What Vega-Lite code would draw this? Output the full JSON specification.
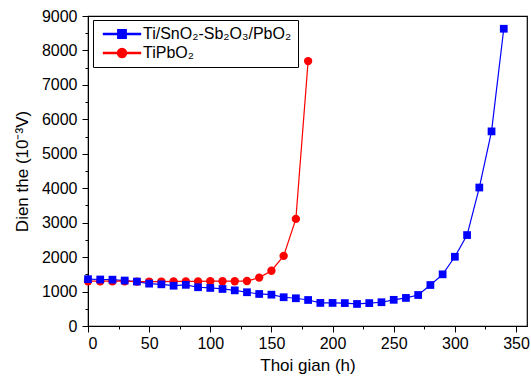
{
  "$schema": "https://vega.github.io/schema/vega-lite/v6.json",
  "width": 439,
  "height": 310,
  "autosize": "none",
  "padding": {"left": 88, "top": 16, "right": 4, "bottom": 55},
  "background": "white",
  "config": {
    "font": "Liberation Sans",
    "view": {"stroke": "black", "strokeWidth": 1.2},
    "axis": {"grid": false, "domainColor": "black", "tickColor": "black", "labelColor": "black", "titleColor": "black", "labelFont": "Liberation Sans", "titleFont": "Liberation Sans", "titleFontWeight": "normal"}
  },
  "data": {"values": [
    {"t": 0, "v": 1360, "s": "Ti/SnO₂-Sb₂O₃/PbO₂"},
    {"t": 10, "v": 1350, "s": "Ti/SnO₂-Sb₂O₃/PbO₂"},
    {"t": 20, "v": 1345, "s": "Ti/SnO₂-Sb₂O₃/PbO₂"},
    {"t": 30, "v": 1320, "s": "Ti/SnO₂-Sb₂O₃/PbO₂"},
    {"t": 40, "v": 1290, "s": "Ti/SnO₂-Sb₂O₃/PbO₂"},
    {"t": 50, "v": 1230, "s": "Ti/SnO₂-Sb₂O₃/PbO₂"},
    {"t": 60, "v": 1210, "s": "Ti/SnO₂-Sb₂O₃/PbO₂"},
    {"t": 70, "v": 1170, "s": "Ti/SnO₂-Sb₂O₃/PbO₂"},
    {"t": 80, "v": 1195, "s": "Ti/SnO₂-Sb₂O₃/PbO₂"},
    {"t": 90, "v": 1125, "s": "Ti/SnO₂-Sb₂O₃/PbO₂"},
    {"t": 100, "v": 1105, "s": "Ti/SnO₂-Sb₂O₃/PbO₂"},
    {"t": 110, "v": 1075, "s": "Ti/SnO₂-Sb₂O₃/PbO₂"},
    {"t": 120, "v": 1035, "s": "Ti/SnO₂-Sb₂O₃/PbO₂"},
    {"t": 130, "v": 980, "s": "Ti/SnO₂-Sb₂O₃/PbO₂"},
    {"t": 140, "v": 930, "s": "Ti/SnO₂-Sb₂O₃/PbO₂"},
    {"t": 150, "v": 910, "s": "Ti/SnO₂-Sb₂O₃/PbO₂"},
    {"t": 160, "v": 835, "s": "Ti/SnO₂-Sb₂O₃/PbO₂"},
    {"t": 170, "v": 805, "s": "Ti/SnO₂-Sb₂O₃/PbO₂"},
    {"t": 180, "v": 755, "s": "Ti/SnO₂-Sb₂O₃/PbO₂"},
    {"t": 190, "v": 670, "s": "Ti/SnO₂-Sb₂O₃/PbO₂"},
    {"t": 200, "v": 670, "s": "Ti/SnO₂-Sb₂O₃/PbO₂"},
    {"t": 210, "v": 665, "s": "Ti/SnO₂-Sb₂O₃/PbO₂"},
    {"t": 220, "v": 640, "s": "Ti/SnO₂-Sb₂O₃/PbO₂"},
    {"t": 230, "v": 665, "s": "Ti/SnO₂-Sb₂O₃/PbO₂"},
    {"t": 240, "v": 690, "s": "Ti/SnO₂-Sb₂O₃/PbO₂"},
    {"t": 250, "v": 760, "s": "Ti/SnO₂-Sb₂O₃/PbO₂"},
    {"t": 260, "v": 815, "s": "Ti/SnO₂-Sb₂O₃/PbO₂"},
    {"t": 270, "v": 900, "s": "Ti/SnO₂-Sb₂O₃/PbO₂"},
    {"t": 280, "v": 1190, "s": "Ti/SnO₂-Sb₂O₃/PbO₂"},
    {"t": 290, "v": 1500, "s": "Ti/SnO₂-Sb₂O₃/PbO₂"},
    {"t": 300, "v": 2010, "s": "Ti/SnO₂-Sb₂O₃/PbO₂"},
    {"t": 310, "v": 2640, "s": "Ti/SnO₂-Sb₂O₃/PbO₂"},
    {"t": 320, "v": 4020, "s": "Ti/SnO₂-Sb₂O₃/PbO₂"},
    {"t": 330, "v": 5650, "s": "Ti/SnO₂-Sb₂O₃/PbO₂"},
    {"t": 340, "v": 8630, "s": "Ti/SnO₂-Sb₂O₃/PbO₂"},
    {"t": 0, "v": 1300, "s": "TiPbO₂"},
    {"t": 10, "v": 1300, "s": "TiPbO₂"},
    {"t": 20, "v": 1300, "s": "TiPbO₂"},
    {"t": 30, "v": 1300, "s": "TiPbO₂"},
    {"t": 40, "v": 1290, "s": "TiPbO₂"},
    {"t": 50, "v": 1290, "s": "TiPbO₂"},
    {"t": 60, "v": 1290, "s": "TiPbO₂"},
    {"t": 70, "v": 1295, "s": "TiPbO₂"},
    {"t": 80, "v": 1295, "s": "TiPbO₂"},
    {"t": 90, "v": 1295, "s": "TiPbO₂"},
    {"t": 100, "v": 1300, "s": "TiPbO₂"},
    {"t": 110, "v": 1300, "s": "TiPbO₂"},
    {"t": 120, "v": 1300, "s": "TiPbO₂"},
    {"t": 130, "v": 1305, "s": "TiPbO₂"},
    {"t": 140, "v": 1405, "s": "TiPbO₂"},
    {"t": 150, "v": 1605, "s": "TiPbO₂"},
    {"t": 160, "v": 2035, "s": "TiPbO₂"},
    {"t": 170, "v": 3110, "s": "TiPbO₂"},
    {"t": 180, "v": 7690, "s": "TiPbO₂"}
  ]},
  "resolve": {"axis": {"x": "independent", "y": "independent"}},
  "layer": [
    {
      "mark": {"type": "line", "strokeWidth": 1.2},
      "encoding": {
        "x": {"field": "t", "type": "quantitative", "scale": {"domain": [0, 359], "nice": false},
          "axis": {"orient": "bottom", "values": [0, 50, 100, 150, 200, 250, 300, 350], "tickSize": 6, "labelFontSize": 16, "labelPadding": 3, "title": "Thoi gian (h)", "titleFontSize": 17, "titlePadding": 6}},
        "y": {"field": "v", "type": "quantitative", "scale": {"domain": [0, 9000], "nice": false},
          "axis": {"orient": "left", "values": [0, 1000, 2000, 3000, 4000, 5000, 6000, 7000, 8000, 9000], "format": "d", "tickSize": 6, "labelFontSize": 16, "labelPadding": 5, "title": "Dien the (10⁻³V)", "titleFontSize": 17, "titlePadding": 10}},
        "color": {"field": "s", "type": "nominal",
          "scale": {"domain": ["Ti/SnO₂-Sb₂O₃/PbO₂", "TiPbO₂"], "range": ["#0000FF", "#FF0000"]}}
      }
    },
    {
      "transform": [{"filter": "datum.s == 'TiPbO₂'"}],
      "mark": {"type": "point", "filled": true, "size": 70, "opacity": 1, "shape": "circle"},
      "encoding": {
        "x": {"field": "t", "type": "quantitative", "axis": null},
        "y": {"field": "v", "type": "quantitative", "axis": null},
        "color": {"field": "s", "type": "nominal"}
      }
    },
    {
      "transform": [{"filter": "datum.s != 'TiPbO₂'"}],
      "mark": {"type": "point", "filled": true, "size": 60, "opacity": 1, "shape": "square"},
      "encoding": {
        "x": {"field": "t", "type": "quantitative", "axis": null},
        "y": {"field": "v", "type": "quantitative", "axis": null},
        "color": {"field": "s", "type": "nominal"}
      }
    },
    {
      "mark": {"type": "point", "filled": true, "opacity": 0, "size": 81},
      "encoding": {
        "x": {"field": "t", "type": "quantitative",
          "axis": {"orient": "bottom", "values": [25, 75, 125, 175, 225, 275, 325], "tickSize": 3, "labels": false, "domain": false, "title": null}},
        "y": {"field": "v", "type": "quantitative",
          "axis": {"orient": "left", "values": [500, 1500, 2500, 3500, 4500, 5500, 6500, 7500, 8500], "tickSize": 3, "labels": false, "domain": false, "title": null}},
        "color": {"field": "s", "type": "nominal",
          "legend": {"title": null, "orient": "none", "legendX": 5, "legendY": 4,
            "strokeColor": "black", "fillColor": "white", "padding": 6,
            "labelFontSize": 16, "labelFont": "Liberation Sans", "labelColor": "black",
            "symbolSize": 81, "symbolOpacity": 1, "symbolOffset": 15, "rowPadding": 3, "labelOffset": 13}},
        "shape": {"field": "s", "type": "nominal",
          "scale": {"domain": ["Ti/SnO₂-Sb₂O₃/PbO₂", "TiPbO₂"], "range": ["M-4.1,-0.13H4.1V0.13H-4.1ZM-0.92,-0.92H0.92V0.92H-0.92Z", "M-4.1,-0.13H4.1V0.13H-4.1ZM1,0A1,1,0,1,1,-1,0A1,1,0,1,1,1,0Z"]},
          "legend": {"title": null, "orient": "none", "legendX": 5, "legendY": 4,
            "strokeColor": "black", "fillColor": "white", "padding": 6,
            "labelFontSize": 16, "labelFont": "Liberation Sans", "labelColor": "black",
            "symbolSize": 81, "symbolOpacity": 1, "symbolOffset": 15, "rowPadding": 3, "labelOffset": 13}}
      }
    }
  ]
}
